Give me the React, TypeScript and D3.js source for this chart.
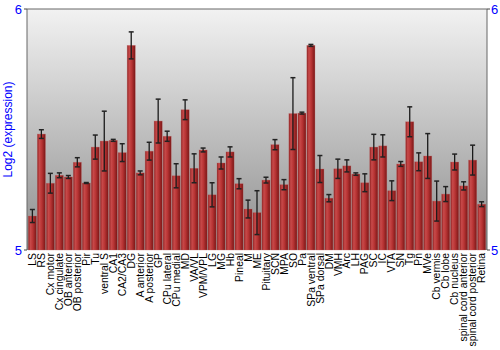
import React from "react";
import * as d3 from "d3";

const categories = ["LS","RS","Cx motor","Cx cingulate","OB anterior","OB posterior","Pir","Tu","ventral S","CA1","CA2/CA3","DG","A anterior","A posterior","GP","CPu lateral","CPu medial","MD","VA/VL","VPM/VPL","LG","MG","Hb","Pineal","M","ME","Pituitary","SCN","MPA","SO","Pa","SPa ventral","SPa dorsal","DM","VMH","Arc","LH","PAG","SC","IC","VTA","SN","Tg","Pn","MVe","Cb vermis","Cb lobe","Cb nucleus","spinal cord anterior","spinal cord posterior","Retina"];

const values = [5.141,5.481,5.277,5.310,5.303,5.364,5.278,5.427,5.452,5.455,5.404,5.849,5.320,5.410,5.535,5.472,5.308,5.582,5.339,5.415,5.229,5.361,5.407,5.275,5.170,5.155,5.290,5.437,5.271,5.566,5.568,5.849,5.336,5.215,5.337,5.349,5.315,5.279,5.427,5.432,5.246,5.357,5.532,5.366,5.390,5.203,5.232,5.365,5.266,5.373,5.190];

const errors = [0.027,0.018,0.041,0.010,0.006,0.019,0.002,0.050,0.124,0.004,0.037,0.056,0.008,0.037,0.091,0.021,0.050,0.041,0.060,0.008,0.050,0.025,0.021,0.021,0.037,0.091,0.012,0.021,0.021,0.149,0.004,0.004,0.056,0.015,0.040,0.025,0.005,0.037,0.053,0.046,0.041,0.010,0.062,0.037,0.093,0.083,0.031,0.033,0.017,0.062,0.010];

const yTicks = [5, 6];
const yTitle = "Log2 (expression)";

export default function App() {
  const left = 27, right = 487, top = 9, bottom = 250;
  const x = d3.scaleBand<string>().domain(categories).range([left, right]).paddingInner(0.1).paddingOuter(0.15);
  const y = d3.scaleLinear().domain([5, 6]).range([bottom, top]);
  const bw = x.bandwidth();
  const font = "'Liberation Sans', Arial, sans-serif";
  return (
    <svg width={500} height={350} style={{ position: "absolute", left: 0, top: 0 }} fontFamily={font}>
      <defs>
        <linearGradient id="bg" x1="0" y1="0" x2="0" y2="1">
          <stop offset="0%" stopColor="#f2f2f2" />
          <stop offset="100%" stopColor="#8e8e8e" />
        </linearGradient>
        <linearGradient id="bar" x1="0" y1="0" x2="1" y2="0">
          <stop offset="0%" stopColor="#8e2020" />
          <stop offset="25%" stopColor="#c84a4a" />
          <stop offset="55%" stopColor="#b83434" />
          <stop offset="100%" stopColor="#7a1616" />
        </linearGradient>
      </defs>
      <rect x={left} y={top} width={right - left} height={bottom - top} fill="url(#bg)" />
      {categories.map((c, i) => {
        const bx = x(c)!;
        const v = values[i];
        const e = errors[i];
        const cx = bx + bw / 2;
        const y1 = y(v + e), y2 = y(v - e);
        return (
          <g key={c}>
            <rect x={bx} y={y(v)} width={bw} height={y(5) - y(v)} fill="url(#bar)" stroke="#c06060" strokeOpacity={0.5} strokeWidth={0.6} />
            <line x1={cx} x2={cx} y1={y1} y2={y2} stroke="#1a1a1a" strokeWidth={1.3} />
            <line x1={cx - 2.5} x2={cx + 2.5} y1={y1} y2={y1} stroke="#222" strokeWidth={1.5} />
            <line x1={cx - 2.5} x2={cx + 2.5} y1={y2} y2={y2} stroke="#222" strokeWidth={1.5} />
          </g>
        );
      })}
      <line x1={left} x2={right} y1={top} y2={top} stroke="#666" strokeWidth={1} />
      <line x1={left} x2={left} y1={top} y2={bottom} stroke="#666" strokeWidth={1} />
      <line x1={right} x2={right} y1={top} y2={bottom} stroke="#666" strokeWidth={1} />
      {yTicks.map((t) => (
        <g key={t}>
          <line x1={left - 3} x2={left} y1={y(t)} y2={y(t)} stroke="#444" />
          <line x1={right} x2={right + 3} y1={y(t)} y2={y(t)} stroke="#444" />
          <text x={left - 5} y={y(t)} dy="0.35em" textAnchor="end" fill="#0000ff" fontSize={13}>{t}</text>
          <text x={right + 4} y={y(t)} dy="0.35em" textAnchor="start" fill="#0000ff" fontSize={13}>{t}</text>
        </g>
      ))}
      <text transform={`translate(12,${(top + bottom) / 2}) rotate(-90)`} textAnchor="middle" fill="#0000ff" fontSize={12}>{yTitle}</text>
      {categories.map((c) => (
        <text key={c} transform={`translate(${x(c)! + bw / 2},${bottom + 3}) rotate(-90)`} dy="0.35em" textAnchor="end" fontSize={10.4} fill="#000">{c}</text>
      ))}
    </svg>
  );
}
